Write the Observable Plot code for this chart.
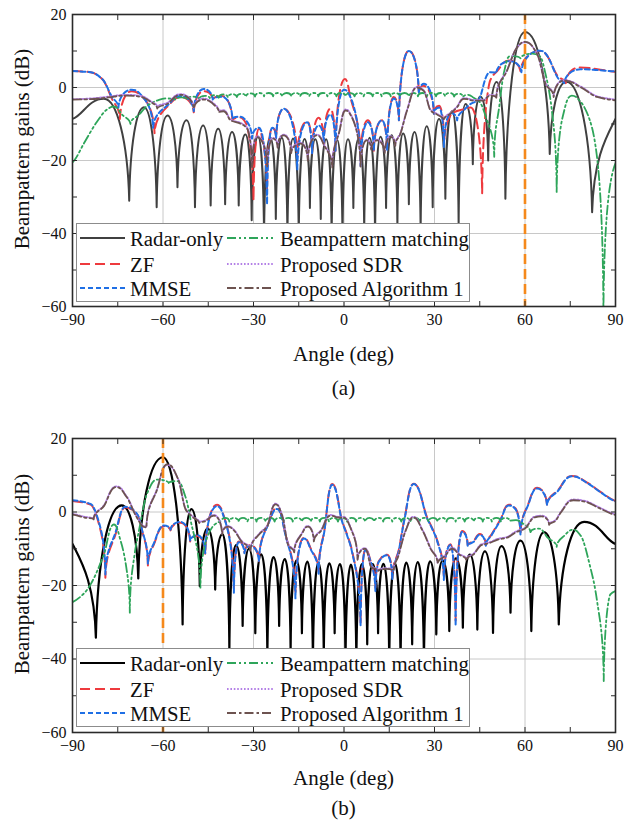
<!DOCTYPE html>
<html><head><meta charset="utf-8">
<script src="https://cdn.jsdelivr.net/npm/d3@7"></script>
<script src="https://cdn.jsdelivr.net/npm/@observablehq/plot@0.6"></script>
<style>
body{margin:0;background:#fff;font-family:"Liberation Serif","Times New Roman",serif;}
#wrap{position:relative;width:636px;height:820px;overflow:hidden;}
.panel{position:absolute;left:0;width:636px;}
.panel svg{display:block;}
#wrap svg text{font-family:"Liberation Serif","Times New Roman",serif !important;}
.legend{position:absolute;}
.lab{position:absolute;font-size:21px;line-height:24px;height:24px;text-align:center;color:#111;white-space:nowrap;}
.ylab{transform:rotate(-90deg);transform-origin:50% 50%;}
</style></head><body><div id="wrap"></div>
<script>
// ---------------- tick values ----------------
const xMajor = [-90, -60, -30, 0, 30, 60, 90];
const xMinor = [-90, -75, -60, -45, -30, -15, 0, 15, 30, 45, 60, 75, 90];
const xGrid = [-60, -30, 0, 30, 60];
const yMajor = [-60, -40, -20, 0, 20];
const yMinor = [-60, -50, -40, -30, -20, -10, 0, 10, 20];
const yGrid = [-40, -20, 0];
const legendLabels = ["Radar-only", "ZF", "MMSE", "Beampattern matching", "Proposed SDR", "Proposed Algorithm 1"];
const yTitle = "Beampattern gains (dB)";
const xTitle = "Angle (deg)";
const targetA = [60];
const targetB = [-60];

// ---------------- panel (a) values: [angle (deg), gain (dB)] ----------------
const radarA = [[-90,-8.6],[-79.6,-3.1],[-71.2,-31],[-66.3,-5.4],[-62.1,-32.8],[-58.5,-7.7],[-55.2,-27.3],[-52.2,-9.0],[-49.4,-32.8],[-46.7,-10.4],[-44.2,-32.3],[-41.7,-11.3],[-39.4,-32],[-37.1,-12.2],[-34.9,-32.3],[-32.7,-12.9],[-30.6,-36.4],[-28.5,-13.4],[-26.5,-42],[-24.5,-13.6],[-22.6,-36],[-20.6,-13.8],[-18.75,-42],[-16.9,-14],[-15,-42],[-13.1,-14.1],[-11.3,-33],[-9.5,-14.2],[-7.7,-36],[-5.9,-14.2],[-4.1,-42],[-2.3,-14.3],[-0.5,-42],[1.3,-14.2],[3.1,-33],[4.9,-14],[6.7,-40],[8.5,-13.8],[10.3,-42],[12.1,-13.5],[13.95,-33],[15.8,-13.1],[17.7,-38],[19.6,-12.6],[21.5,-32],[23.4,-12.2],[25.4,-40],[27.4,-10.6],[29.4,-32.8],[31.5,-8.6],[33.6,-30.5],[35.8,-6.5],[38,-38],[40.3,-4.5],[42.7,-21],[45.2,-2.5],[47.8,-20],[50.6,1.5],[53.5,-30.5],[60,15.2],[68.2,-18.2],[73.7,1.6],[82.25,-34.2],[90,-8.6]];
const zfA = [[-90,4.5],[-84,4.2],[-80,2.2],[-77,-3],[-74.3,-8.6],[-70.4,-1.0],[-66.5,-2.8],[-62.8,-12.5],[-58,-4.8],[-54.2,-2.6],[-49.8,-6.8],[-46.5,-1.0],[-43.5,-3.3],[-40.5,-2.3],[-37,-9.0],[-34.5,-8.2],[-32.5,-9.8],[-30,-31],[-28.2,-11.3],[-27,-14.5],[-25.5,-28],[-23.8,-11],[-22.5,-14],[-20,-5.8],[-15.5,-19],[-12.2,-9.3],[-10.6,-18],[-8.4,-8.3],[-6.7,-15.4],[-4.5,-5.8],[-2.8,-17.3],[0.3,2.3],[2.1,-2.6],[5.5,-19],[7.9,-9],[9.9,-17.3],[12.6,-9],[14.3,-17.3],[16.5,-2.6],[18.2,-9],[21.5,10.1],[24.8,-1.7],[26.2,0.5],[29.8,-7.2],[31.5,-5],[33.2,-15],[36,-7],[39.5,-6],[42,-5.5],[45.8,-29],[48.5,2],[50.8,4.5],[54.6,7.4],[58.5,4.5],[65,10],[71,3],[73.5,1.2],[78,5.5],[84,5],[90,4.3]];
const mmseA = [[-90,4.5],[-84,4.2],[-80,2.2],[-77,-2.5],[-74.8,-5.5],[-70.4,-0.6],[-66.5,-2.8],[-63.3,-11],[-58,-4.5],[-54.2,-2.3],[-49.8,-6.5],[-46.5,-0.4],[-43.5,-3.3],[-40.5,-2.5],[-37,-8.5],[-34.5,-8],[-32.5,-9],[-30.5,-14],[-28.2,-11],[-25.5,-32],[-23.8,-11],[-22.5,-14],[-20,-5.8],[-15.5,-22.5],[-12.2,-9.5],[-10.6,-18],[-8.4,-10.4],[-6.7,-15],[-4.5,-7.4],[-2.8,-17.3],[0,-0.6],[2.1,-2.6],[5.5,-21.5],[7.9,-9.5],[9.9,-17.3],[12.6,-9],[14.3,-17.3],[16.5,-3],[18.2,-9],[21.5,10],[24.8,-1.7],[26.5,1.0],[29.8,-7.2],[31.5,-5.5],[33.1,-16.3],[35.5,-7],[37.5,-9],[40,-6],[42,-4.5],[44.5,-3.5],[48.5,4.2],[50.5,4],[55,7.2],[58.8,4.2],[65,10.1],[71.5,2],[73,1.2],[78.4,5],[84,4.8],[90,4.4]];
const bpA = [[-90,-20.5],[-86,-15],[-82,-9.5],[-78.5,-6],[-76.3,-5.2],[-73.5,-7.5],[-70.8,-10],[-68,-7.5],[-65.2,-5],[-62,-3.6],[-59,-3.0],[-56,-3.3],[-54,-2.7],[-52,-3.2],[-50,-2.5],[-48,-3.1],[-46,-2.3],[-44.5,-2.9],[-43,-2.1],[-41.5,-2.8],[-40,-1.9],[-38.5,-2.7],[-37,-1.8],[-35.5,-2.6],[-34,-1.7],[-32.5,-2.5],[-31,-1.6],[-29.5,-2.5],[-28,-1.5],[-26.5,-2.4],[-25,-1.5],[-23.5,-2.4],[-22,-1.5],[-20.5,-2.4],[-19,-1.5],[-17.5,-2.4],[-16,-1.5],[-14.5,-2.4],[-13,-1.5],[-11.5,-2.4],[-10,-1.5],[-8.5,-2.4],[-7,-1.5],[-5.5,-2.4],[-4,-1.5],[-2.5,-2.4],[-1,-1.5],[0.5,-2.4],[2,-1.5],[3.5,-2.4],[5,-1.5],[6.5,-2.4],[8,-1.5],[9.5,-2.4],[11,-1.5],[12.5,-2.4],[14,-1.5],[15.5,-2.4],[17,-1.5],[18.5,-2.4],[20,-1.5],[21.5,-2.4],[23,-1.5],[24.5,-2.4],[26,-1.5],[27.5,-2.4],[29,-1.5],[30.5,-2.4],[32,-1.5],[33.5,-2.4],[35,-1.5],[36.5,-2.5],[38,-1.7],[39.5,-2.6],[41,-2.0],[43,-2.8],[45,-4],[47,-8],[49.8,-19],[51.5,-5],[53,4],[55,8.6],[58.5,8.0],[62.5,9.3],[65,8.5],[67,3],[69,-7],[70.5,-28.7],[72.5,-8],[75.5,-2.2],[78.5,-4],[81.5,-9],[84,-20],[86,-62],[88,-28],[90,-20.8]];
const sdrA = [[-90,-3.2],[-84,-3.0],[-78,-2.5],[-72,-2.0],[-67,-2.4],[-64,-3.8],[-61.9,-5.3],[-58.6,-4.2],[-54.2,-1.8],[-49.8,-5.5],[-46.5,-3.0],[-44.5,-3.6],[-43,-4.5],[-41.5,-6.5],[-39.9,-6.2],[-37.6,-8.8],[-34.3,-9.7],[-32.1,-11],[-30.5,-21],[-28.8,-13.4],[-27,-14.8],[-25.5,-21.5],[-23.5,-13.8],[-22,-16.2],[-20,-12.9],[-17.5,-17.5],[-14.4,-15.2],[-12,-19.5],[-8.9,-12.9],[-6.5,-15.8],[-3.9,-21.5],[-1.5,-11.8],[0.5,-6.0],[2.5,-7.8],[5.5,-21.5],[7.5,-14.3],[9,-16.8],[11,-14.3],[13.5,-17.8],[15.4,-13.3],[17,-15.8],[18.7,-12.5],[20.9,-6.1],[24.2,0.2],[26.5,-0.8],[28.7,-6.1],[31,-7.3],[33.1,-8.8],[35.5,-6.8],[37.5,-5.2],[39.7,-2.9],[43,-3.4],[46.3,-3.4],[48.5,-2.0],[50.5,-2.6],[54.1,4.9],[57.4,11],[60,12.4],[64,9.3],[66.8,1.2],[69.5,-2.4],[72.9,2.0],[78.4,0.3],[83.9,-2.4],[90,-3.3]];
const alg1A = [[-90,-3.3],[-84,-3.2],[-78,-2.7],[-72,-2.2],[-67,-2.6],[-64,-4],[-61.9,-5.8],[-58.6,-4.5],[-54.2,-2.0],[-49.8,-5.8],[-46.5,-3.3],[-44.5,-3.8],[-43,-4.8],[-41.5,-6.8],[-39.9,-6.5],[-37.6,-9],[-34.3,-9.9],[-32.1,-11.3],[-30.5,-21.8],[-28.8,-13.6],[-27,-15],[-25.5,-22],[-23.5,-14],[-22,-16.5],[-20,-13.1],[-17.5,-18],[-14.4,-15.4],[-12,-20],[-8.9,-13.1],[-6.5,-16],[-3.9,-22],[-1.5,-12],[0.5,-6.3],[2.5,-8],[5.5,-21.8],[7.5,-14.5],[9,-17],[11,-14.5],[13.5,-18],[15.4,-13.5],[17,-16],[18.7,-12.7],[20.9,-6.3],[24.2,0],[26.5,-1],[28.7,-6.3],[31,-7.5],[33.1,-9],[35.5,-7],[37.5,-5.4],[39.7,-3.1],[43,-3.6],[46.3,-3.6],[48.5,-2.2],[50.5,-2.8],[54.1,4.7],[57.4,11],[60,12.5],[64,9.2],[66.8,1],[69.5,-2.6],[72.9,1.9],[78.4,0.1],[83.9,-2.6],[90,-3.5]];

// ---------------- panel (b) values ----------------
const radarB = [[-90,-8.7],[-82.25,-34.2],[-73.7,1.8],[-68.2,-18.1],[-60,14.9],[-53.5,-30.6],[-50.6,0.8],[-47.8,-20.2],[-45.2,-4.5],[-42.7,-21.1],[-40.3,-6],[-38,-38],[-35.8,-9],[-33.6,-31],[-31.5,-10],[-29.4,-33],[-27.4,-11.5],[-25.4,-40],[-23.4,-12.3],[-21.5,-31],[-19.6,-12.8],[-17.7,-38],[-15.8,-13.2],[-13.95,-33],[-12.1,-13.5],[-10.3,-42],[-8.5,-13.8],[-6.7,-40],[-4.9,-14],[-3.1,-33],[-1.3,-14.2],[0.5,-42],[2.3,-14.3],[4.1,-42],[5.9,-14.2],[7.7,-36],[9.5,-14.2],[11.3,-33],[13.1,-14.1],[15,-42],[16.9,-14],[18.75,-42],[20.6,-13.8],[22.6,-36],[24.5,-13.6],[26.5,-42],[28.5,-13.4],[30.6,-33.3],[32.7,-13.2],[34.9,-32.4],[37.1,-12.6],[39.4,-31.5],[41.7,-11.6],[44.2,-32],[46.7,-10.7],[49.4,-32.9],[52.2,-9.3],[55.2,-27.4],[58.5,-7.8],[62.1,-32.4],[66.3,-5.5],[71.2,-30.6],[79.6,-2.7],[90,-8.7]];
const zfB = [[-90,3.0],[-84,2],[-81,-4],[-79.1,-17.9],[-75.7,-6],[-72.5,1.2],[-68.6,-0.7],[-66.9,-5.2],[-65,-14.7],[-63,-8.8],[-59.7,-3.9],[-57.5,-5],[-54.2,-2.9],[-51,-8],[-48.5,-6.5],[-46,-11.6],[-42.1,2.0],[-39.5,-2],[-36.5,-20.6],[-34.9,-8],[-33,-11],[-31,-9],[-28.2,-13.4],[-25,-3],[-22.2,1.1],[-19.4,-6.1],[-16.1,-22.4],[-13.3,-7],[-11,-10],[-8.4,-16.1],[-6.5,-5],[-3.9,7.6],[-0.6,-2.5],[1.0,-6.1],[2.7,-10.7],[5.5,-30.6],[7.1,-10.2],[8.7,-13],[10.4,-20.6],[11.5,-13.4],[14.3,-11.6],[16,-17.9],[18.2,-10.2],[20,-2],[23.1,7.7],[27.6,-1.6],[29.2,-4.3],[31,-8],[33.1,-17.9],[35.3,-8.8],[37,-29.5],[39.2,-5.2],[41,-9],[43,-7.9],[45,-6],[47,-9],[49,-6],[51.9,-2],[54.6,2.0],[56.8,1],[58.5,-6.1],[61,2],[64,6.6],[67.3,2.0],[71,6],[75.5,9.8],[80.6,8],[85,5.5],[90,3.0]];
const mmseB = [[-90,3.2],[-84,2.2],[-81,-3.5],[-79.1,-17],[-75.7,-5.5],[-72.5,1.4],[-68.6,-0.5],[-66.9,-5],[-65,-14.2],[-63,-8.5],[-59.7,-3.7],[-57.5,-4.8],[-54.2,-2.7],[-51,-7.8],[-48.5,-6.3],[-46,-11.2],[-42.1,1.6],[-39.5,-2.2],[-36.5,-22],[-34.9,-8.2],[-33,-11.2],[-31,-9.2],[-28.2,-13.6],[-25,-3.2],[-22.2,0.8],[-19.4,-6.3],[-16.1,-23.5],[-13.3,-7.2],[-11,-10.2],[-8.4,-16.8],[-6.5,-5.2],[-3.9,7.4],[-0.6,-2.7],[1.0,-6.3],[2.7,-11],[5.5,-31],[7.1,-10.4],[8.7,-13.2],[10.4,-21.5],[11.5,-13.6],[14.3,-11.8],[16,-18.5],[18.2,-10.4],[20,-2.2],[23.1,7.6],[27.6,-1.8],[29.2,-4.5],[31,-8.2],[33.1,-18.5],[35.3,-9],[37,-31],[39.2,-5.4],[41,-9.2],[43,-8.1],[45,-6.2],[47,-9.2],[49,-6.2],[51.9,-2.2],[54.6,1.8],[56.8,0.8],[58.5,-6.3],[61,1.8],[64,6.4],[67.3,1.8],[71,5.8],[75.5,9.7],[80.6,7.9],[85,5.4],[90,2.9]];
const bpB = [[-90,-24.5],[-86,-22],[-84,-19.7],[-79.6,-11.6],[-76.3,-3.4],[-74,-8],[-72,-16],[-71,-27.4],[-69.5,-12],[-68,-5.2],[-65.2,5.2],[-61.9,8.8],[-58.1,7.9],[-55.3,8.4],[-52.5,4],[-50.9,-2],[-47.6,-20.6],[-45.4,-7],[-43,-3.5],[-41,-2.5],[-39.5,-1.6],[-38,-2.6],[-36.5,-1.6],[-35,-2.6],[-33.5,-1.6],[-32,-2.6],[-30.5,-1.6],[-29,-2.6],[-27.5,-1.6],[-26,-2.6],[-24.5,-1.6],[-23,-2.6],[-21.5,-1.6],[-20,-2.6],[-18.5,-1.6],[-17,-2.6],[-15.5,-1.6],[-14,-2.6],[-12.5,-1.6],[-11,-2.6],[-9.5,-1.6],[-8,-2.6],[-6.5,-1.6],[-5,-2.6],[-3.5,-1.6],[-2,-2.6],[-0.5,-1.6],[1,-2.6],[2.5,-1.6],[4,-2.6],[5.5,-1.6],[7,-2.6],[8.5,-1.6],[10,-2.6],[11.5,-1.6],[13,-2.6],[14.5,-1.6],[16,-2.6],[17.5,-1.6],[19,-2.6],[20.5,-1.6],[22,-2.6],[23.5,-1.6],[25,-2.6],[26.5,-1.6],[28,-2.6],[29.5,-1.6],[31,-2.6],[32.5,-1.6],[34,-2.6],[35.5,-1.6],[37,-2.6],[38.5,-1.6],[40,-2.6],[41.5,-1.6],[43,-2.6],[44.5,-1.6],[46,-2.6],[47.5,-1.6],[49,-2.6],[50.5,-1.6],[52,-2.6],[53.5,-1.6],[55,-2.4],[57,-2.2],[59,-3],[61.8,-5.5],[64.5,-4.5],[67.5,-7],[70.5,-9.5],[73,-6.5],[76,-4.8],[78.5,-6.5],[81.7,-15.2],[83.9,-24.3],[86.1,-46],[88.3,-22.4],[90,-21.5]];
const sdrB = [[-90,-0.5],[-86,-1.3],[-83,-1.8],[-79.6,1.8],[-75.5,7.0],[-72,4.2],[-69,-0.8],[-66.5,-3.8],[-65.5,-4.1],[-62,6.2],[-58.6,12.8],[-55,9],[-52.5,0.9],[-50,-1.3],[-48,-2.8],[-46,-2.3],[-43.1,-0.8],[-40.4,-5.9],[-38.5,-3.8],[-36.5,-4.8],[-34,-7.8],[-31,-10.3],[-28,-5.8],[-25.5,-3.8],[-22.7,2.3],[-20.5,-0.8],[-18.5,-8.8],[-16.5,-10.8],[-14,-5.8],[-12,-3.8],[-10,-7.8],[-7.5,-4.8],[-4.5,-0.8],[-2,-1.3],[0,-1.3],[2.5,-4.8],[4.5,-12.8],[7,-9.8],[9,-14.8],[11.5,-15.8],[14,-15.3],[16.5,-15.8],[18,-11.8],[20.5,-4.8],[23,-1.3],[26,-4.8],[28.7,-9.8],[31,-13.8],[33.5,-11.8],[36,-9.8],[38,-11.3],[40.5,-12.8],[43,-11.3],[45.5,-8.8],[48,-8.3],[51,-7.3],[54,-6.8],[57,-5.3],[60,-4.3],[63,-1.3],[65.5,-1.0],[68,-3.3],[70,-2.3],[72,0.2],[76,3.4],[80,3.0],[84,1.5],[90,-0.6]];
const alg1B = [[-90,-0.7],[-86,-1.5],[-83,-2.0],[-79.6,1.6],[-75.5,6.8],[-72,4],[-69,-1],[-66.5,-4],[-65.5,-4.3],[-62,6],[-58.6,13],[-55,9],[-52.5,0.7],[-50,-1.5],[-48,-3.0],[-46,-2.5],[-43.1,-1.0],[-40.4,-6.1],[-38.5,-4],[-36.5,-5],[-34,-8],[-31,-10.5],[-28,-6],[-25.5,-4],[-22.7,2.1],[-20.5,-1],[-18.5,-9],[-16.5,-11],[-14,-6],[-12,-4],[-10,-8],[-7.5,-5],[-4.5,-1],[-2,-1.5],[0,-1.5],[2.5,-5],[4.5,-13],[7,-10],[9,-15],[11.5,-16],[14,-15.5],[16.5,-16],[18,-12],[20.5,-5],[23,-1.5],[26,-5],[28.7,-10],[31,-14],[33.5,-12],[36,-10],[38,-11.5],[40.5,-13],[43,-11.5],[45.5,-9],[48,-8.5],[51,-7.5],[54,-7],[57,-5.5],[60,-4.5],[63,-1.5],[65.5,-1.2],[68,-3.5],[70,-2.5],[72,0],[76,3.2],[80,2.8],[84,1.3],[90,-0.8]];

// ---------------- styles ----------------
const FONT = "Liberation Serif";
const C = {
  radarA: "#404040", radarB: "#000000", zf: "#ee3a3e", mmse: "#1f6fe5",
  bp: "#2ea55a", sdr: "#b380e6", alg1: "#6d5350", target: "#f5891c",
  grid: "#c8c8c8", frame: "#2a2a2a"
};
const DASH = {radar: null, zf: "10,5", mmse: "5,3", bp: "9,3,2,3,2,3", sdr: "1.6,1.8", alg1: "9,3,2.5,3", target: "10,5"};

// custom curve: rounded maxima, sharp minima (drawn by Plot through d3 path context)
function lobeCurve(context) {
  let pts = [];
  return {
    areaStart() {}, areaEnd() {},
    lineStart() { pts = []; },
    point(x, y) { pts.push([+x, +y]); },
    lineEnd() { drawLobes(context, pts); }
  };
}
function drawLobes(ctx, p) {
  const n = p.length;
  if (!n) return;
  ctx.moveTo(p[0][0], p[0][1]);
  if (n === 1) return;
  const type = p.map((q, i) => {
    if (i === 0 || i === n - 1) return "end";
    const a = p[i - 1][1], b = p[i + 1][1], y = q[1];
    if (y < a && y < b) return "peak";
    if (y > a && y > b) return "trough";
    return "mono";
  });
  const slope = p.map((q, i) => {
    if (i === 0) return (p[1][1] - q[1]) / (p[1][0] - q[0]) * 0.5;
    if (i === n - 1) return (q[1] - p[n - 2][1]) / (q[0] - p[n - 2][0]) * 0.5;
    const s0 = (q[1] - p[i - 1][1]) / (q[0] - p[i - 1][0]);
    const s1 = (p[i + 1][1] - q[1]) / (p[i + 1][0] - q[0]);
    if (s0 * s1 <= 0) return 0;
    return 2 * s0 * s1 / (s0 + s1);
  });
  for (let i = 0; i < n - 1; i++) {
    const [x0, y0] = p[i], [x1, y1] = p[i + 1];
    const dx = x1 - x0, dy = y1 - y0;
    let c1, c2;
    if (type[i] === "peak") c1 = [x0 + 0.5 * dx, y0];
    else if (type[i] === "trough") c1 = [x0 + 0.06 * dx, y0 + 0.6 * dy];
    else c1 = [x0 + dx / 3, y0 + slope[i] * dx / 3];
    if (type[i + 1] === "peak") c2 = [x1 - 0.5 * dx, y1];
    else if (type[i + 1] === "trough") c2 = [x1 - 0.06 * dx, y1 - 0.6 * dy];
    else c2 = [x1 - dx / 3, y1 - slope[i + 1] * dx / 3];
    ctx.bezierCurveTo(c1[0], c1[1], c2[0], c2[1], x1, y1);
  }
}

function seriesLine(data, stroke, dash, width) {
  return Plot.line(data, {x: d => d[0], y: d => d[1], stroke, strokeWidth: width, strokeDasharray: dash,
    curve: lobeCurve, clip: true, strokeLinejoin: "round"});
}

function makePanel(cfg) {
  const noText = () => "";
  return Plot.plot({
    width: 636, height: cfg.height,
    marginLeft: 72, marginRight: 21, marginTop: cfg.mt, marginBottom: cfg.mb,
    x: {domain: [-90, 90]},
    y: {domain: [-60, 20]},
    style: {fontFamily: FONT, fontSize: "16px", color: "#111", background: "transparent", overflow: "visible"},
    marks: [
      Plot.gridX({ticks: xGrid, stroke: C.grid, strokeOpacity: 1, strokeWidth: 1}),
      Plot.gridY({ticks: yGrid, stroke: C.grid, strokeOpacity: 1, strokeWidth: 1}),
      seriesLine(cfg.radar, cfg.radarColor, DASH.radar, cfg.radarWidth),
      seriesLine(cfg.zf, C.zf, DASH.zf, 2),
      seriesLine(cfg.mmse, C.mmse, DASH.mmse, 2),
      seriesLine(cfg.bp, C.bp, DASH.bp, 1.8),
      seriesLine(cfg.sdr, C.sdr, DASH.sdr, 1.8),
      seriesLine(cfg.alg1, C.alg1, DASH.alg1, 1.8),
      Plot.ruleX(cfg.target, {stroke: C.target, strokeWidth: 2.6, strokeDasharray: DASH.target}),
      Plot.frame({stroke: C.frame, strokeWidth: 1.6}),
      Plot.axisX({ticks: xMajor, tickSize: 0, tickPadding: 7, label: null, fontSize: 16, fontFamily: FONT, fill: "#111"}),
      Plot.axisX({ticks: xMinor, tickSize: -5, tickFormat: noText, label: null, stroke: C.frame}),
      Plot.axisX({ticks: xMinor, anchor: "top", tickSize: -5, tickFormat: noText, label: null, stroke: C.frame}),
      Plot.axisY({ticks: yMajor, tickSize: 0, tickPadding: 6, label: null, fontSize: 16, fontFamily: FONT, fill: "#111"}),
      Plot.axisY({ticks: yMinor, tickSize: -5, tickFormat: noText, label: null, stroke: C.frame}),
      Plot.axisY({ticks: yMinor, anchor: "right", tickSize: -5, tickFormat: noText, label: null, stroke: C.frame})
    ]
  });
}

function makeLegend(left, top, radarColor) {
  const ns = "http://www.w3.org/2000/svg";
  const W = 394, H = 79;
  const svg = document.createElementNS(ns, "svg");
  svg.setAttribute("width", W); svg.setAttribute("height", H);
  svg.setAttribute("class", "legend");
  svg.style.left = left + "px"; svg.style.top = top + "px";
  const rect = document.createElementNS(ns, "rect");
  Object.entries({x: 0.5, y: 0.5, width: W - 1, height: H - 1, fill: "#fff", stroke: "#8c8c8c", "stroke-width": 1}).forEach(([k, v]) => rect.setAttribute(k, v));
  svg.appendChild(rect);
  const items = [
    [legendLabels[0], radarColor, DASH.radar, 0, 0],
    [legendLabels[1], C.zf, DASH.zf, 0, 1],
    [legendLabels[2], C.mmse, DASH.mmse, 0, 2],
    [legendLabels[3], C.bp, DASH.bp, 1, 0],
    [legendLabels[4], C.sdr, DASH.sdr, 1, 1],
    [legendLabels[5], C.alg1, DASH.alg1, 1, 2]
  ];
  const rowY = [15, 41, 65];
  const colX = [[4, 49, 54], [151, 197, 204]];
  for (const [label, color, dash, col, row] of items) {
    const l = document.createElementNS(ns, "line");
    const [x1, x2, tx] = colX[col];
    Object.entries({x1, x2, y1: rowY[row], y2: rowY[row], stroke: color, "stroke-width": 2}).forEach(([k, v]) => l.setAttribute(k, v));
    if (dash) l.setAttribute("stroke-dasharray", dash);
    svg.appendChild(l);
    const t = document.createElementNS(ns, "text");
    t.setAttribute("x", tx); t.setAttribute("y", rowY[row]);
    t.setAttribute("dominant-baseline", "central");
    t.setAttribute("font-family", FONT);
    t.setAttribute("font-size", 20.8);
    t.setAttribute("fill", "#111");
    t.textContent = label;
    svg.appendChild(t);
  }
  return svg;
}

function addLabel(text, cx, cy, rotated) {
  const d = document.createElement("div");
  d.className = "lab" + (rotated ? " ylab" : "");
  const w = 280;
  d.style.width = w + "px";
  d.style.left = (cx - w / 2) + "px";
  d.style.top = (cy - 12) + "px";
  d.textContent = text;
  wrap.appendChild(d);
}

const wrap = document.getElementById("wrap");
const panels = [
  {top: 0, height: 410, mt: 14, mb: 104, caption: "(a)", target: targetA, yCenter: 149, xLabelY: 354, capY: 388,
   radar: radarA, radarColor: C.radarA, radarWidth: 2, zf: zfA, mmse: mmseA, bp: bpA, sdr: sdrA, alg1: alg1A, legendTop: 223},
  {top: 410, height: 410, mt: 28, mb: 88, caption: "(b)", target: targetB, yCenter: 574, xLabelY: 778, capY: 808,
   radar: radarB, radarColor: C.radarB, radarWidth: 2.2, zf: zfB, mmse: mmseB, bp: bpB, sdr: sdrB, alg1: alg1B, legendTop: 648}
];
for (const cfg of panels) {
  const div = document.createElement("div");
  div.className = "panel";
  div.style.top = cfg.top + "px";
  div.appendChild(makePanel(cfg));
  wrap.appendChild(div);
  wrap.appendChild(makeLegend(76, cfg.legendTop, cfg.radarColor));
  addLabel(yTitle, 22, cfg.yCenter, true);
  addLabel(xTitle, 343.5, cfg.xLabelY, false);
  addLabel(cfg.caption, 343.5, cfg.capY, false);
}
</script>
</body></html>
